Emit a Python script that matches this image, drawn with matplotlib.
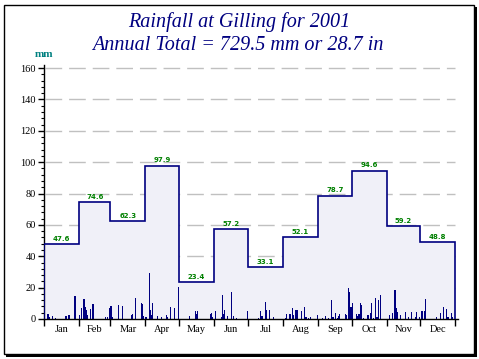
import matplotlib.pyplot as plt
from matplotlib.patches import Rectangle
import numpy as np

W, H = 479, 359

months = ['Jan', 'Feb', 'Mar', 'Apr', 'May', 'Jun', 'Jul', 'Aug', 'Sep', 'Oct', 'Nov', 'Dec']
days_in_month = [31, 28, 31, 30, 31, 30, 31, 31, 30, 31, 30, 31]
monthly_totals = [47.6, 74.6, 62.3, 97.9, 23.4, 57.2, 33.1, 52.1, 78.7, 94.6, 59.2, 48.8]

# daily falls (day of year from 0, mm)
rain_day = [0, 3, 4, 7, 10, 19, 21, 22, 27,
            31, 33, 35, 36, 37, 38, 41, 43, 54, 56, 58,
            59, 60, 66, 69, 77, 78, 81, 86, 87, 88,
            90, 93, 94, 95, 96, 100, 104, 108, 109, 112, 115, 119,
            129, 134, 135, 136, 147, 148, 149,
            152, 157, 158, 159, 160, 162, 166, 168, 170, 180,
            190, 192, 193, 196, 197, 200, 203,
            214, 215, 217, 218, 220, 221, 223, 224, 228, 231, 232, 234, 236, 242,
            247, 249, 252, 255, 256, 258, 260, 261, 262, 267, 268, 270, 271, 272,
            273, 277, 278, 279, 280, 281, 283, 287, 289, 290, 292, 294, 295, 296, 298,
            306, 309, 311, 312, 313, 316, 320, 323, 326, 329, 330, 333,
            335, 337, 338, 348, 351, 354, 357, 358, 361, 362]
rain_mm = [12.3, 3.0, 1.3, 2.0, 0.8, 2.0, 2.5, 2.5, 14.7,
           2.5, 7.0, 13.0, 7.5, 6.0, 2.5, 6.6, 9.8, 1.5, 1.5, 7.0,
           8.0, 1.0, 9.0, 8.5, 2.5, 3.2, 13.4, 10.2, 9.4, 2.0,
           1.0, 29.6, 6.0, 2.5, 10.2, 2.0, 1.5, 2.5, 1.0, 7.9, 7.2, 20.4,
           1.7, 4.9, 3.2, 4.9, 3.2, 3.8, 1.3,
           5.1, 1.5, 15.3, 3.4, 6.0, 2.0, 17.2, 2.0, 0.8, 5.1,
           0.8, 5.1, 2.0, 11.0, 6.0, 6.0, 1.3,
           0.8, 3.2, 3.2, 3.2, 7.2, 2.5, 6.0, 6.0, 5.1, 7.7, 1.5, 0.8, 1.5, 2.5,
           0.8, 2.0, 0.8, 12.1, 1.3, 3.8, 0.8, 2.0, 3.2, 3.2, 2.5, 20.0, 17.4, 7.7,
           10.2, 3.2, 2.0, 3.2, 10.2, 9.0, 0.8, 2.5, 3.8, 10.4, 0.8, 13.4, 1.3, 12.3, 15.3,
           2.6, 3.6, 18.5, 7.2, 4.7, 2.6, 4.5, 1.0, 4.7, 1.5, 4.7, 1.5,
           5.1, 5.1, 12.8, 1.0, 3.6, 7.9, 6.2, 1.5, 4.0, 1.5]

navy = '#000080'
fig = plt.figure(figsize=(W / 100, H / 100), dpi=100)

def fx(x):
    return x / W

def fy(y):
    return 1 - y / H

# frame with shadow, kept behind the axes
fig.patches.append(Rectangle((fx(6), fy(357)), fx(471), 350 / H, transform=fig.transFigure,
                             facecolor='black', edgecolor='none', zorder=-2))
fig.patches.append(Rectangle((fx(3.5), fy(354)), fx(470), 349.5 / H, transform=fig.transFigure,
                             facecolor='white', edgecolor='black', linewidth=1.0, zorder=-1))

ax = fig.add_axes([fx(44), fy(319), fx(458) - fx(44), fy(65) - fy(319)])
ax.set_facecolor('none')

edges = np.concatenate([[0], np.cumsum(days_in_month)])
centers = (edges[:-1] + edges[1:]) / 2

ax.stairs(monthly_totals, edges, fill=True, color='#f0f0f8', zorder=1)
ax.stairs(monthly_totals, edges, baseline=0, color=navy, linewidth=1.2, zorder=3)
ax.bar(rain_day, rain_mm, width=1.0, align='edge', color=navy, linewidth=0,
       antialiased=False, zorder=2)

for c, v in zip(centers, monthly_totals):
    ax.text(c, v + 1.5, f'{v}', ha='center', va='bottom', color='#008000',
            fontsize=5, fontweight='bold', zorder=4)

ax.set_xlim(0, 367.4)
ax.set_ylim(0, 162)

for g in range(20, 161, 20):
    ax.plot([1, 365], [g, g], color='#c0c0c0', linewidth=1.0,
            linestyle=(0, (12, 5)), zorder=0.5)

ax.spines['top'].set_visible(False)
ax.spines['right'].set_visible(False)
ax.spines['left'].set_linewidth(1.0)
ax.spines['bottom'].set_linewidth(1.0)

ax.set_yticks(range(0, 161, 20))
ax.set_yticks(range(0, 161, 4), minor=True)
ax.set_xticks(edges)
ax.set_xticklabels([])
ax.set_xticks(centers, minor=True)
ax.set_xticklabels(months, minor=True)
ax.tick_params(axis='y', which='major', length=4, width=1, direction='out', pad=2,
               labelsize=7.5, labelfontfamily='Liberation Serif')
ax.tick_params(axis='y', which='minor', length=2, width=0.8, direction='out')
ax.tick_params(axis='x', which='major', length=5, width=1, direction='out')
ax.tick_params(axis='x', which='minor', length=0, pad=4,
               labelsize=7.5, labelfontfamily='Liberation Serif')

fig.text(fx(239), fy(27), 'Rainfall at Gilling for 2001', ha='center', va='baseline',
         color=navy, fontsize=14.5, family='Liberation Serif', style='italic')
fig.text(fx(238), fy(50.5), 'Annual Total = 729.5 mm or 28.7 in', ha='center', va='baseline',
         color=navy, fontsize=14.5, family='Liberation Serif', style='italic')
fig.text(fx(44), fy(57), 'mm', ha='center', va='baseline', color='#008080',
         fontsize=8, family='Liberation Serif', fontweight='bold')

fig.savefig('out.png', dpi=100)
